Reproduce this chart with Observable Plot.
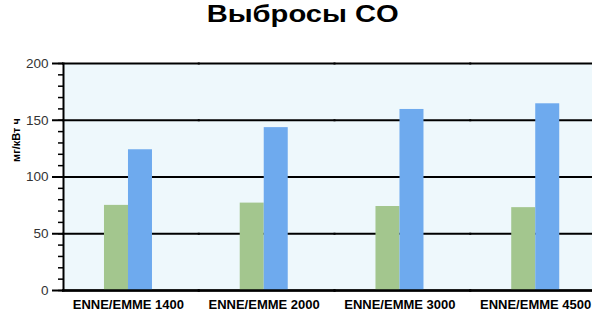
<!DOCTYPE html>
<html>
<head>
<meta charset="utf-8">
<script src="https://cdn.jsdelivr.net/npm/d3@7"></script>
<script src="https://cdn.jsdelivr.net/npm/@observablehq/plot@0.6"></script>
<style>
  html, body { margin: 0; padding: 0; background: #fff; overflow: hidden; }
  #title { height: 46px; line-height: 59.6px; padding-left: 13px; text-align: center; width: 592px; box-sizing: border-box;
           font: bold 24.5px "Liberation Sans", Arial, sans-serif; color: #000; white-space: nowrap; overflow: visible; }
  #title span { display: inline-block; transform: scaleX(1.19); transform-origin: 50% 50%; }
  #chart svg { max-width: none !important; }
</style>
</head>
<body>
<div id="title"><span>Выбросы CO</span></div>
<div id="chart"></div>
<script>
const categories = ["ENNE/EMME 1400", "ENNE/EMME 2000", "ENNE/EMME 3000", "ENNE/EMME 4500"];
const series = ["s1", "s2"];
const values1 = [75, 77, 74, 73];
const values2 = [124, 143.5, 159.5, 164.5];
const majorTicks = [0, 50, 100, 150, 200];
const minorTicks = d3.range(0, 201, 10);
const yLabel = "мг/кВт ч";

const rows = [];
categories.forEach((c, i) => {
  rows.push({cat: c, series: series[0], value: values1[i]});
  rows.push({cat: c, series: series[1], value: values2[i]});
});

const bg = "#eef8fc";

const chart = Plot.plot({
  width: 606,
  height: 265,
  marginTop: 17,
  marginBottom: 21,
  marginLeft: 63,
  marginRight: 0,
  style: {fontFamily: "'Liberation Sans', Arial, sans-serif", background: "transparent", maxWidth: "none"},
  fx: {domain: categories, padding: 0, round: false, axis: null},
  x: {domain: series, paddingInner: 0, paddingOuter: 1.828, align: 0.467, round: false, axis: null},
  y: {domain: [0, 200], axis: null},
  color: {domain: series, range: ["#a3c68e", "#6eaaee"]},
  marks: [
    Plot.frame({fill: bg, stroke: null, insetLeft: -0.6, insetRight: -0.6}),
    Plot.gridY(majorTicks, {stroke: "#000", strokeOpacity: 1, strokeWidth: 2, insetLeft: -1, insetRight: -1}),
    Plot.barY(rows, {fx: "cat", x: "series", y: "value", fill: "series"}),
    Plot.ruleY([0], {stroke: "#000", strokeWidth: 2.5, insetLeft: -1, insetRight: -1}),
    Plot.frame({anchor: "left", fx: [categories[0]], stroke: "#000", strokeWidth: 2}),
    Plot.axisY(minorTicks, {tickSize: 5, tickFormat: () => "", stroke: "#000", strokeWidth: 1.5, label: null}),
    Plot.axisY(majorTicks, {tickSize: 11, tickPadding: 4, fontSize: 13.5, fill: "#333", stroke: "#000", strokeWidth: 2, label: null}),
    Plot.axisFx({anchor: "bottom", tickSize: 0, tickPadding: 9, fontSize: 13, fontWeight: "bold", fill: "#000", dx: -3, label: null}),
    Plot.text([yLabel], {fx: [categories[0]], frameAnchor: "left", dx: -47, dy: -15, rotate: -90, fontSize: 11, fontWeight: "bold", fill: "#000"})
  ]
});
document.getElementById("chart").appendChild(chart);
</script>
</body>
</html>
